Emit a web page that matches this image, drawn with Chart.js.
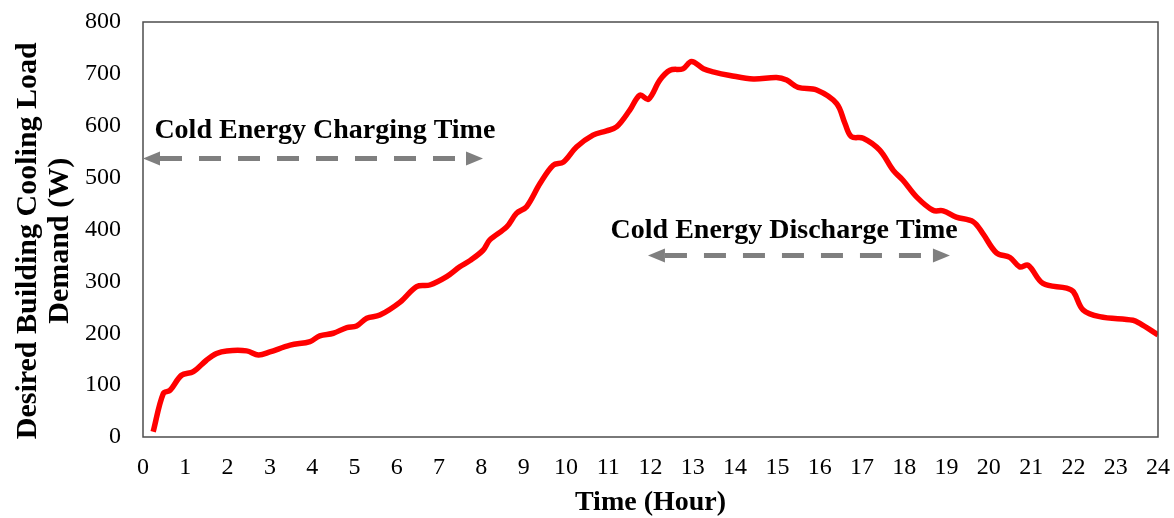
<!DOCTYPE html>
<html>
<head>
<meta charset="utf-8">
<script src="https://cdn.jsdelivr.net/npm/chart.js@4.4.1/dist/chart.umd.min.js"></script>
<style>
  html, body { margin: 0; padding: 0; background: #ffffff; }
  #wrap { width: 1174px; height: 518px; }
</style>
</head>
<body>
<div id="wrap"><canvas id="c" width="1174" height="518"></canvas></div>
<script>
// ---- data ----
const hours = [0.24, 0.48, 0.64, 0.91, 1.19, 1.5, 1.74, 1.98, 2.45, 2.73,
  3.0, 3.48, 3.95, 4.18, 4.5, 4.82, 5.05, 5.29, 5.6, 6.08,
  6.47, 6.78, 7.18, 7.49, 7.73, 8.04, 8.2, 8.6, 8.83, 9.07,
  9.39, 9.7, 9.94, 10.25, 10.64, 10.96, 11.2, 11.51, 11.75, 11.95,
  12.22, 12.46, 12.77, 12.97, 13.25, 13.48, 13.88, 14.43, 14.98, 15.22,
  15.49, 15.93, 16.4, 16.6, 16.75, 17.03, 17.42, 17.74, 17.97, 18.29,
  18.68, 18.92, 19.23, 19.63, 19.86, 20.18, 20.5, 20.73, 20.93, 21.28,
  21.84, 22.0, 22.23, 22.62, 23.41, 23.57, 24.0];
const loads = [10, 84, 90, 119, 126, 148, 161, 166, 166, 158,
  164, 177, 184, 195, 200, 211, 214, 229, 235, 260,
  290, 293, 309, 328, 340, 360, 380, 405, 431, 444,
  489, 524, 530, 559, 582, 590, 598, 630, 659, 651,
  688, 707, 710, 724, 710, 704, 697, 690, 693, 688,
  674, 669, 643, 604, 579, 576, 553, 514, 495, 463,
  437, 436, 424, 415, 392, 355, 346, 328, 331, 296,
  287, 280, 245, 232, 225, 219, 197];
const xTitle = 'Time (Hour)';
const yTitle = ['Desired Building Cooling Load   ', 'Demand (W)   '];
const periodLabels = ['Cold Energy Charging Time', 'Cold Energy Discharge Time'];
const periodStart = [0, 11.94];
const periodEnd = [8.04, 19.08];

// ---- annotation placement (value space) ----
const periodLevel = [537, 350];
const labelAnchor = [{x: 4.3, y: 590}, {x: 15.16, y: 397}];

const points = hours.map((h, i) => ({x: h, y: loads[i]}));

function arrowHead(ctx, x, y, dir) {
  ctx.beginPath();
  ctx.moveTo(x, y);
  ctx.lineTo(x - dir * 17, y - 7);
  ctx.lineTo(x - dir * 17, y + 7);
  ctx.closePath();
  ctx.fill();
}

const serif = '"Liberation Serif", "Times New Roman", serif';

function noScalePadding(s) {
  s.paddingTop = 0; s.paddingBottom = 0; s.paddingLeft = 0; s.paddingRight = 0;
}

const framePlugin = {
  id: 'frame',
  beforeDraw(chart) {
    const ctx = chart.ctx;
    ctx.save();
    ctx.fillStyle = '#ffffff';
    ctx.fillRect(0, 0, chart.width, chart.height);
    ctx.restore();
  },
  afterDraw(chart) {
    const {ctx, chartArea: a, scales: {x, y}} = chart;
    ctx.save();
    ctx.strokeStyle = '#4d4d4d';
    ctx.lineWidth = 1.5;
    ctx.strokeRect(a.left, a.top, a.right - a.left, a.bottom - a.top);

    for (let i = 0; i < periodLabels.length; i++) {
      const x0 = x.getPixelForValue(periodStart[i]);
      const x1 = x.getPixelForValue(periodEnd[i]);
      const py = y.getPixelForValue(periodLevel[i]);
      ctx.strokeStyle = '#7f7f7f';
      ctx.fillStyle = '#7f7f7f';
      ctx.lineWidth = 5;
      ctx.setLineDash([22, 17]);
      ctx.beginPath();
      ctx.moveTo(x0 + 17, py);
      ctx.lineTo(x1 - 17, py);
      ctx.stroke();
      ctx.setLineDash([]);
      arrowHead(ctx, x0, py, -1);
      arrowHead(ctx, x1, py, 1);

      ctx.fillStyle = '#000000';
      ctx.font = 'bold 28px ' + serif;
      ctx.textAlign = 'center';
      ctx.textBaseline = 'middle';
      ctx.fillText(periodLabels[i], x.getPixelForValue(labelAnchor[i].x), y.getPixelForValue(labelAnchor[i].y));
    }
    ctx.restore();
  }
};

new Chart(document.getElementById('c'), {
  type: 'line',
  data: {
    datasets: [{
      data: points,
      borderColor: '#ff0000',
      borderWidth: 5.5,
      pointRadius: 0,
      tension: 0.35,
      fill: false
    }]
  },
  options: {
    responsive: false,
    animation: false,
    layout: { padding: { top: 22, right: 16, left: 0, bottom: 0 } },
    plugins: { legend: { display: false }, tooltip: { enabled: false } },
    scales: {
      x: {
        type: 'linear', min: 0, max: 24,
        grid: { display: false, drawTicks: false },
        border: { display: false },
        ticks: { stepSize: 1, color: '#000', padding: 16, font: { family: serif, size: 24 } },
        title: { display: true, text: xTitle, color: '#000', padding: { top: 0, bottom: 0 },
                 font: { family: serif, size: 28, weight: 'bold', lineHeight: 1.1 } },
        afterFit(s) { s.height = 81; noScalePadding(s); }
      },
      y: {
        min: 0, max: 800,
        grid: { display: false, drawTicks: false },
        border: { display: false },
        ticks: { stepSize: 100, color: '#000', padding: 22, font: { family: serif, size: 24 } },
        title: { display: true, text: yTitle, color: '#000', padding: { top: 12, bottom: 0 },
                 font: { family: serif, size: 30, weight: 'bold', lineHeight: 1.07 } },
        afterFit(s) { s.width = 143; noScalePadding(s); }
      }
    }
  },
  plugins: [framePlugin]
});
</script>
</body>
</html>
